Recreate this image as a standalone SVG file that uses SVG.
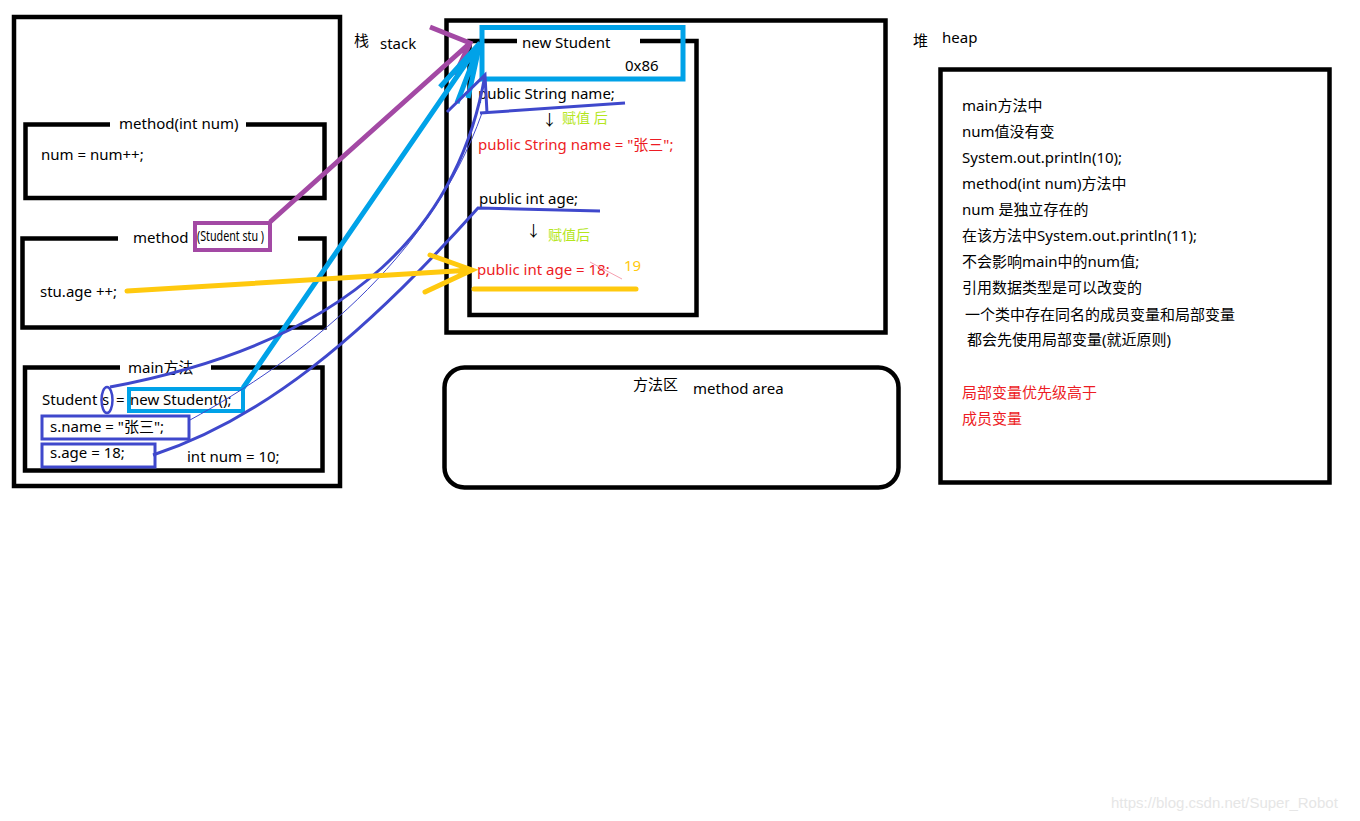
<svg xmlns="http://www.w3.org/2000/svg" width="1360" height="821" viewBox="0 0 1360 821">
<style>
text{font-family:"Noto Sans","Noto Sans CJK SC",sans-serif;font-size:15px;fill:#000}
.box{fill:none;stroke:#000;stroke-width:4.5}
.red{fill:#ed1c24}
.grn{fill:#b5e61d;font-size:14px}
.note{font-size:15px}
.blue{fill:none;stroke:#3f48cc;stroke-width:3}
.cy{fill:none;stroke:#00a2e8;stroke-width:5}
.pu{fill:none;stroke:#a349a4;stroke-width:5}
.ye{fill:none;stroke:#ffc90e;stroke-width:5;stroke-linecap:round}
.gap{stroke:#fff;stroke-width:8}
</style>
<rect width="1360" height="821" fill="#fff"/>
<g id="stack">
<rect class="box" x="14" y="17" width="326" height="469"/>
<text x="354" y="46" font-size="14">栈</text>
<text x="380" y="49">stack</text>
</g>
<g id="method-int">
<rect class="box" x="25.5" y="124.5" width="299" height="73.5"/>
<line class="gap" x1="110" y1="124.5" x2="246" y2="124.5"/>
<text x="119" y="129">method(int num)</text>
<text x="41" y="160">num = num++;</text>
</g>
<g id="method-stu">
<rect class="box" x="22.5" y="238.5" width="302" height="89"/>
<line class="gap" x1="118" y1="238.5" x2="298" y2="238.5"/>
<text x="133" y="243">method</text>
<rect x="195" y="223" width="75" height="27" fill="#fff" stroke="#a349a4" stroke-width="4"/>
<text x="197" y="241" font-size="10" textLength="67" lengthAdjust="spacingAndGlyphs">(Student stu )</text>
<text x="40" y="297">stu.age ++;</text>
</g>
<g id="main">
<rect class="box" x="25" y="367.5" width="297.5" height="103"/>
<line class="gap" x1="120" y1="367.5" x2="211" y2="367.5"/>
<text x="128" y="373">main方法</text>
<text x="42" y="405">Student</text>
<text x="102" y="405">s</text>
<text x="116" y="405">=</text>
<ellipse cx="107" cy="400" rx="5.5" ry="13" fill="none" stroke="#3f48cc" stroke-width="2.5"/>
<rect x="129" y="389" width="114" height="22" fill="none" stroke="#00a2e8" stroke-width="4"/>
<text x="130" y="405">new Student();</text>
<rect x="42" y="416" width="147" height="23" fill="none" stroke="#3f48cc" stroke-width="3"/>
<text x="50" y="432">s.name = "张三";</text>
<rect x="42" y="444" width="113" height="23" fill="none" stroke="#3f48cc" stroke-width="3"/>
<text x="50" y="458">s.age = 18;</text>
<text x="187" y="462">int num = 10;</text>
</g>
<g id="heap">
<rect class="box" x="446.5" y="20.5" width="439" height="312"/>
<text x="913" y="46" font-size="14">堆</text>
<text x="942" y="43">heap</text>
</g>
<g id="student-object">
<rect class="box" x="469.5" y="41" width="227" height="274"/>
<line class="gap" x1="517" y1="41" x2="640" y2="41"/>
<rect x="482" y="27.5" width="201" height="51.5" fill="none" stroke="#00a2e8" stroke-width="5"/>
<text x="522" y="48">new Student</text>
<text x="625" y="71">0x86</text>
<text x="478" y="99">public String name;</text>
<text x="542" y="125">↓</text>
<text class="grn" x="562" y="123">赋值 后</text>
<text class="red" x="478" y="150">public String name = "张三";</text>
<text x="479" y="204">public int age;</text>
<text x="526" y="236">↓</text>
<text class="grn" x="548" y="240">赋值后</text>
<text class="red" x="477" y="275">public int age = 18;</text>
<line x1="590" y1="262" x2="622" y2="279" stroke="#f5a0b0" stroke-width="1"/>
<text x="624" y="271" style="fill:#ffc90e">19</text>
<line class="ye" x1="474" y1="289" x2="636" y2="289"/>
</g>
<g id="method-area">
<rect x="444.5" y="367.5" width="454" height="120" rx="20" fill="none" stroke="#000" stroke-width="4.5"/>
<text x="633" y="390">方法区</text>
<text x="693" y="394">method area</text>
</g>
<g id="notes">
<rect class="box" x="940.5" y="69.5" width="389" height="413"/>
<text class="note" x="962" y="111">main方法中</text>
<text class="note" x="962" y="137">num值没有变</text>
<text class="note" x="962" y="163">System.out.println(10);</text>
<text class="note" x="962" y="189">method(int num)方法中</text>
<text class="note" x="962" y="215">num 是独立存在的</text>
<text class="note" x="962" y="241">在该方法中System.out.println(11);</text>
<text class="note" x="962" y="267">不会影响main中的num值;</text>
<text class="note" x="962" y="293">引用数据类型是可以改变的</text>
<text class="note" x="965" y="320">一个类中存在同名的成员变量和局部变量</text>
<text class="note" x="967" y="345">都会先使用局部变量(就近原则)</text>
<text class="note red" x="962" y="398">局部变量优先级高于</text>
<text class="note red" x="962" y="424">成员变量</text>
</g>
<g id="connectors">
<path class="pu" d="M270,222 L470,43 M430,27 L470,43 L455,75"/>
<path class="cy" d="M243,388 L480,43 M440,87 L480,43 L457,103 M480,43 L468,98"/>
<path class="blue" d="M110,387 C360,340 460,220 485,75 M447,112 L485,75 L487,113"/>
<path class="blue" d="M480,113 L625,103"/>
<path fill="none" stroke="#3f48cc" stroke-width="1" d="M190,420 C300,360 430,260 482,113"/>
<path class="blue" d="M153,455 C260,420 360,340 478,208 L600,211"/>
<path class="ye" d="M127,291 L472,270 M430,255 L472,270 L425,292"/>
</g>
<text x="1111" y="808" style="fill:#e6e6e6;font-family:'Liberation Sans',sans-serif;font-size:15px">https://blog.csdn.net/Super_Robot</text>
</svg>
